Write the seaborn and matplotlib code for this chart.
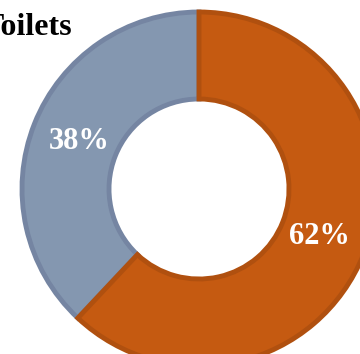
import matplotlib
matplotlib.use("Agg")
import matplotlib.pyplot as plt
import seaborn as sns

labels = ["Other", "Toilets"]
values = [38, 62]
colors = ["#8497B0", "#C55A11"]
edge_colors = ["#7585A2", "#B0500F"]
title = "Toilets"

sns.set_theme(style="white")
plt.rcParams["font.family"] = ["Liberation Serif", "DejaVu Serif"]

fig = plt.figure(figsize=(3.6, 3.54), dpi=100)
ax = fig.add_axes([0, 0, 1, 1])

wedges, texts, autotexts = ax.pie(
    values, colors=colors, startangle=90, counterclock=True,
    center=(199, 165), radius=177,
    wedgeprops=dict(width=87, linewidth=3.5),
    autopct=lambda p: f"{p:.0f}%", pctdistance=0.73,
    textprops=dict(color="white", fontsize=22, fontweight="bold"),
)
for w, ec in zip(wedges, edge_colors):
    w.set_edgecolor(ec)

ax.set_xlim(0, 360)
ax.set_ylim(0, 354)
ax.set_aspect("auto")
ax.axis("off")

fig.text(72 / 360, 1 - 35 / 354, title, ha="right", va="baseline",
         fontsize=23, fontweight="bold", color="black")

fig.savefig("out.png", dpi=100)
